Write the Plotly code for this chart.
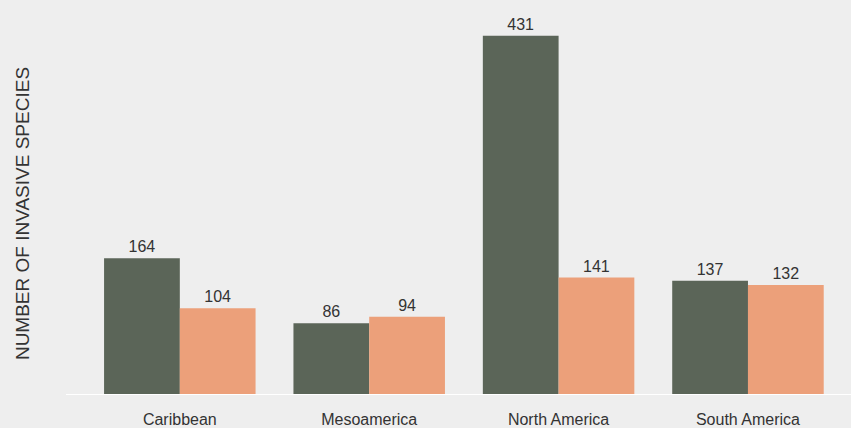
import plotly.graph_objects as go

regions = ["Caribbean", "Mesoamerica", "North America", "South America"]
series_a = [164, 86, 431, 137]
series_b = [104, 94, 141, 132]
series_names = ["Series A", "Series B"]

fig = go.Figure()
fig.add_trace(go.Bar(x=regions, y=series_a, name=series_names[0], marker_color="#5b6558",
                     marker_line_width=0,
                     text=series_a, textposition="outside", cliponaxis=False,
                     textfont=dict(size=16, color="#333333")))
fig.add_trace(go.Bar(x=regions, y=series_b, name=series_names[1], marker_color="#eca07a",
                     marker_line_width=0,
                     text=series_b, textposition="outside", cliponaxis=False,
                     textfont=dict(size=16, color="#333333")))

fig.update_layout(
    width=851, height=428,
    margin=dict(l=66, r=0, t=10, b=33),
    paper_bgcolor="#eeeeee", plot_bgcolor="#eeeeee",
    barmode="group", bargap=0.2, bargroupgap=0,
    showlegend=False,
    font=dict(family="Liberation Sans, Arial, sans-serif", size=16, color="#333333"),
    xaxis=dict(range=[-0.601, 3.544], showgrid=False, zeroline=False,
               showline=False, ticks="outside", ticklen=10, tickcolor="rgba(0,0,0,0)",
               tickfont=dict(size=16, color="#333333")),
    yaxis=dict(range=[0, 462], showgrid=False, zeroline=False, showticklabels=False,
               showline=False),
    shapes=[dict(type="line", xref="paper", yref="y", x0=0, x1=1, y0=0, y1=0,
                 line=dict(color="white", width=2))],
    annotations=[dict(text="NUMBER OF INVASIVE SPECIES", xref="paper", yref="paper",
                      x=-0.056, y=0.47, xanchor="center", yanchor="middle",
                      textangle=-90, showarrow=False,
                      font=dict(size=19, color="#333333"))],
)

fig.write_html("out.html", config={"displayModeBar": False})

with open("out.html", "r", encoding="utf-8") as f:
    html = f.read()
html = html.replace("<head>", "<head><style>html,body{margin:0;padding:0;overflow:hidden;}</style>", 1)
with open("out.html", "w", encoding="utf-8") as f:
    f.write(html)
